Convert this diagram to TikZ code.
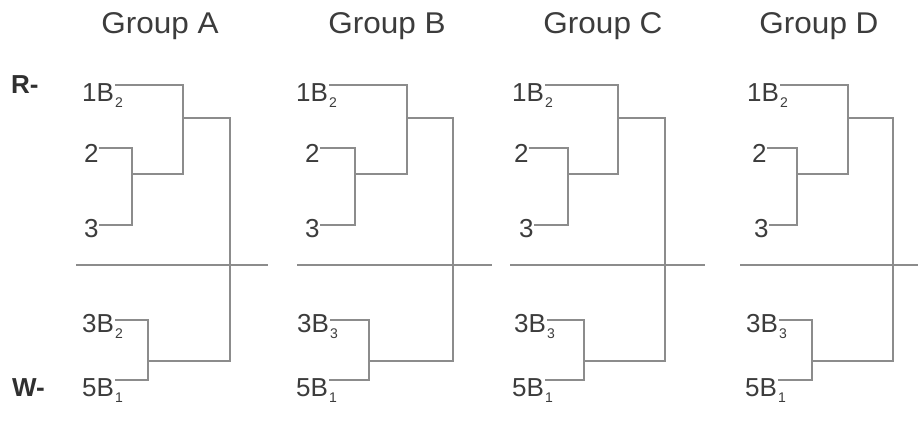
\documentclass[tikz,border=0pt]{standalone}
\usepackage{fontspec}
\setmainfont{Liberation Sans}
\newfontfamily\titlefont{Liberation Sans}[FakeStretch=1.05]
\definecolor{txt}{HTML}{3C3C3C}
\definecolor{ln}{HTML}{8C8C8C}
\newcommand\sbs[1]{\raisebox{-6pt}{\fontsize{14}{14}\selectfont #1}}
\begin{document}
\begin{tikzpicture}[x=1pt,y=-1pt,
 lab/.style={anchor=base west,inner sep=0pt,font=\fontsize{26}{30}\selectfont,text=txt},
 ttl/.style={anchor=base,inner sep=0pt,font=\titlefont\fontsize{30}{36}\selectfont,text=txt},
 side/.style={anchor=base west,inner sep=0pt,font=\bfseries\fontsize{26}{30}\selectfont,text=txt!80!black},
 br/.style={draw=ln,line width=1.3pt},
 divline/.style={draw=ln,line width=1.8pt}]
\useasboundingbox[fill=white] (0,0) rectangle (918,441);
\node[side] (R) at (11,94) {R-};
\node[side] (W) at (12,396) {W-};
\foreach \g/\tx/\xa/\xb/\xc/\xd/\xe/\bA/\bB/\bT/\bW/\dL/\dR/\s in {
 A/160/82/84/84/82/82/132/183/230/148/76/268/2,
 B/387/296/305/305/297/296/355/407/453/369/297/492/3,
 C/603/512/514/519/514/512/568/618/665/584/510/705/3,
 D/819/747/752/754/746/745/797/848/893/812/740/918/3}{
 \node[ttl] (\g-t) at (\tx,34) {Group \g};
 \node[lab] (\g-a) at (\xa,102) {1B\kern1pt\rlap{\sbs{2}}};
 \node[lab] (\g-b) at (\xb,162) {2};
 \node[lab] (\g-c) at (\xc,237) {3};
 \node[lab] (\g-d) at (\xd,332) {3B\kern1pt\rlap{\sbs{\s}}};
 \node[lab] (\g-e) at (\xe,396) {5B\kern1pt\rlap{\sbs{1}}};
 \coordinate (\g-p1) at (\bA,174);
 \coordinate (\g-k) at (\bB,174);
 \coordinate (\g-p2) at (\bB,118);
 \coordinate (\g-q) at (\bT,240);
 \coordinate (\g-p3) at (\bW,361);
 \coordinate (\g-l) at (\dL,265);
 \coordinate (\g-r) at (\dR,265);
 \draw[divline] (\g-l) -- (\g-r);
 \draw[br] ([yshift=17pt]\g-a.base east) -| (\g-k) -- (\g-p1);
 \draw[br] ([yshift=14pt]\g-b.base east) -| (\g-p1) |- ([yshift=12pt]\g-c.base east);
 \draw[br] (\g-p2) -| (\g-q) |- (\g-p3);
 \draw[br] ([yshift=12pt]\g-d.base east) -| (\g-p3) |- ([yshift=16pt]\g-e.base east);
}
\end{tikzpicture}
\end{document}
